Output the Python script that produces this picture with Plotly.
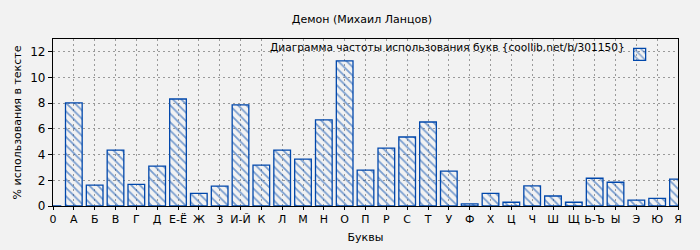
import plotly.graph_objects as go

letters = ["0", "А", "Б", "В", "Г", "Д", "Е-Ё", "Ж", "З", "И-Й", "К", "Л", "М", "Н", "О", "П",
           "Р", "С", "Т", "У", "Ф", "Х", "Ц", "Ч", "Ш", "Щ", "Ь-Ъ", "Ы", "Э", "Ю", "Я"]
percent = [0, 8.02, 1.62, 4.35, 1.69, 3.10, 8.33, 0.99, 1.54, 7.87, 3.18, 4.35, 3.65, 6.70, 11.30, 2.79,
           4.51, 5.37, 6.54, 2.71, 0.16, 0.99, 0.29, 1.56, 0.78, 0.29, 2.16, 1.85, 0.45, 0.60, 2.09]
y_ticks = [0, 2, 4, 6, 8, 10, 12]

title = "Демон (Михаил Ланцов)"
series_name = "Диаграмма частоты использования букв {coollib.net/b/301150}"

blue = "#0047ab"
font = "DejaVu Sans, sans-serif"

fig = go.Figure()
fig.add_trace(go.Bar(
    x=letters, y=percent, name=" ", width=0.8,
    marker=dict(color="rgba(0,0,0,0)", line=dict(color=blue, width=1.3),
                pattern=dict(shape="\\", fgcolor=blue, bgcolor="rgba(0,0,0,0)", size=6, solidity=0.3)),
    showlegend=True,
))

fig.add_annotation(text=series_name, xref="paper", yref="paper", x=0.918, y=0.95,
                   xanchor="right", yanchor="middle", showarrow=False, font=dict(size=10.6))

fig.update_layout(
    width=700, height=250,
    margin=dict(l=53, r=22, t=39, b=44, autoexpand=False),
    paper_bgcolor="#f2f2f2", plot_bgcolor="#f2f2f2",
    font=dict(family=font, size=11, color="#000"),
    title=dict(text=title, x=0.517, xanchor="center", y=0.925, yanchor="middle",
               font=dict(size=11)),
    showlegend=True,
    legend=dict(x=0.985, y=0.995, xanchor="right", yanchor="top", bgcolor="rgba(0,0,0,0)",
                font=dict(size=11), borderwidth=0),
    bargap=0.2,
)
fig.update_xaxes(
    type="category", range=[0, 30], automargin=False,
    title=dict(text="Буквы", standoff=8, font=dict(size=11)),
    showline=True, linecolor="#000", linewidth=1.2, mirror=True,
    showgrid=True, gridcolor="#9a9a9a", griddash="2px,3px", gridwidth=1,
    ticks="outside", ticklen=3, tickcolor="#000", tickfont=dict(size=11),
)
fig.update_yaxes(
    range=[0, 13], tickvals=y_ticks, automargin=False,
    title=dict(text="% использования в тексте", standoff=6, font=dict(size=11)),
    showline=True, linecolor="#000", linewidth=1.2, mirror=True,
    showgrid=True, gridcolor="#9a9a9a", griddash="2px,3px", gridwidth=1,
    ticks="outside", ticklen=4, tickcolor="#000", tickfont=dict(size=12),
    zeroline=False,
)

fig.write_html("out.html")
